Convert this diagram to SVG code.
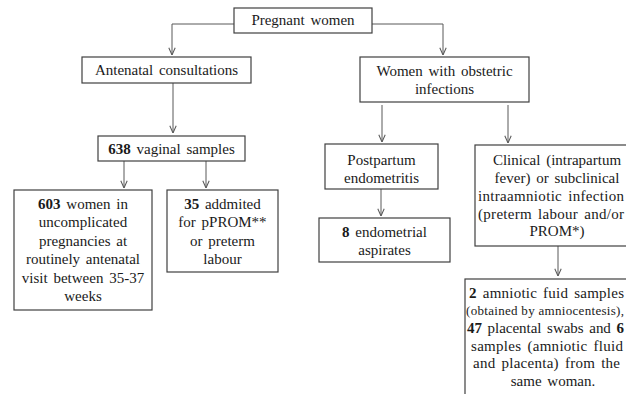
<svg xmlns="http://www.w3.org/2000/svg" width="626" height="394" viewBox="0 0 626 394">
<style>
.box{fill:#fff;stroke:#404040;stroke-width:1.2}
.t{font-size:15px;fill:#1a1a1a;text-anchor:middle;word-spacing:2px}
.l{text-anchor:start}
.s{font-size:13px;word-spacing:0}
.b{font-weight:bold}
.c{fill:none;stroke:#595959;stroke-width:1;marker-end:url(#ar)}
</style>
<defs>
<marker id="ar" viewBox="0 0 10 10" refX="10" refY="5" markerWidth="8" markerHeight="8" markerUnits="userSpaceOnUse" orient="auto">
<path d="M1,1 L10,5 L1,9" fill="none" stroke="#595959" stroke-width="1.3"/>
</marker>
</defs>
<rect width="626" height="394" fill="#fff"/>
<g id="connectors">
<path class="c" d="M234,24 H172 V55"/>
<path class="c" d="M372,24 H443 V55"/>
<path class="c" d="M173,83 V133"/>
<path class="c" d="M124,161 V188"/>
<path class="c" d="M206,161 V188"/>
<path class="c" d="M382,105 V142"/>
<path class="c" d="M508,105 V143"/>
<path class="c" d="M381,189 V216"/>
<path class="c" d="M558,246 V276"/>
</g>
<g font-family="'Liberation Serif', 'Times New Roman', 'DejaVu Serif', serif">
<g id="pregnant">
<rect class="box" x="234" y="8" width="138" height="25"/>
<text class="t" x="303" y="25">Pregnant women</text>
</g>
<g id="antenatal">
<rect class="box" x="82" y="57" width="169" height="26"/>
<text class="t" x="166.5" y="75">Antenatal consultations</text>
</g>
<g id="obstetric">
<rect class="box" x="360" y="57" width="169" height="45"/>
<text class="t" x="444.5" y="76">Women with obstetric</text>
<text class="t" x="444.5" y="94">infections</text>
</g>
<g id="vaginal">
<rect class="box" x="98" y="136" width="147" height="25"/>
<text class="t" x="171.5" y="154"><tspan class="b">638</tspan> vaginal samples</text>
</g>
<g id="uncomplicated">
<rect class="box" x="14" y="190" width="138" height="120"/>
<text class="t" x="83" y="209"><tspan class="b">603</tspan> women in</text>
<text class="t" x="83" y="227.4">uncomplicated</text>
<text class="t" x="83" y="245.8">pregnancies at</text>
<text class="t" x="83" y="264.2">routinely antenatal</text>
<text class="t" x="83" y="282.6">visit between 35-37</text>
<text class="t" x="83" y="301">weeks</text>
</g>
<g id="admitted">
<rect class="box" x="167" y="190" width="111" height="82"/>
<text class="t" x="222.5" y="209"><tspan class="b">35</tspan> addmited</text>
<text class="t" x="222.5" y="227.4">for pPROM**</text>
<text class="t" x="222.5" y="245.8">or preterm</text>
<text class="t" x="222.5" y="264.2">labour</text>
</g>
<g id="postpartum">
<rect class="box" x="325" y="144" width="113" height="45"/>
<text class="t" x="381.5" y="165">Postpartum</text>
<text class="t" x="381.5" y="183">endometritis</text>
</g>
<g id="aspirates">
<rect class="box" x="319" y="218" width="131" height="44"/>
<text class="t" x="384.5" y="237"><tspan class="b">8</tspan> endometrial</text>
<text class="t" x="384.5" y="255">aspirates</text>
</g>
<g id="clinical">
<rect class="box" x="475" y="145" width="166" height="101"/>
<text class="t" x="557" y="165">Clinical (intrapartum</text>
<text class="t" x="557" y="183">fever) or subclinical</text>
<text class="t l" x="478" y="201" textLength="146" lengthAdjust="spacing">intraamniotic infection</text>
<text class="t l" x="478" y="218.5" textLength="146" lengthAdjust="spacing">(preterm labour and/or</text>
<text class="t" x="557" y="236">PROM*)</text>
</g>
<g id="samples">
<rect class="box" x="465" y="279" width="176" height="125"/>
<text class="t l" x="469" y="298" textLength="155" lengthAdjust="spacing"><tspan class="b">2</tspan> amniotic fuid samples</text>
<text class="t s l" x="466" y="315" textLength="158" lengthAdjust="spacing">(obtained by amniocentesis),</text>
<text class="t l" x="467" y="333" textLength="157" lengthAdjust="spacing"><tspan class="b">47</tspan> placental swabs and <tspan class="b">6</tspan></text>
<text class="t l" x="471" y="350.5" textLength="152" lengthAdjust="spacing">samples (amniotic fluid</text>
<text class="t l" x="473" y="368" textLength="147" lengthAdjust="spacing">and placenta) from the</text>
<text class="t" x="553" y="386">same woman.</text>
</g>
</g>
</svg>
